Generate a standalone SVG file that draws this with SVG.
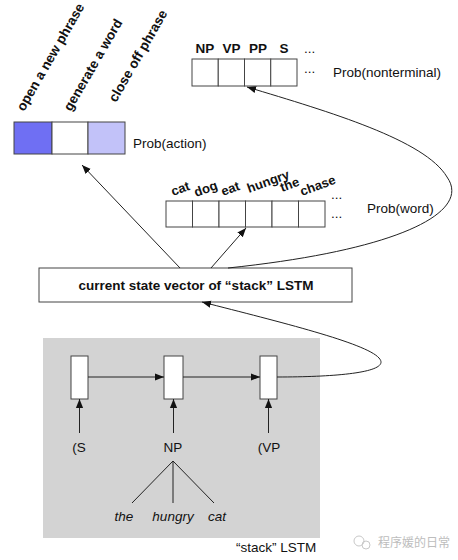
<svg xmlns="http://www.w3.org/2000/svg" width="458" height="560" viewBox="0 0 458 560">
<defs>
<marker id="ah" viewBox="0 0 10 10" refX="10" refY="5" markerWidth="9" markerHeight="9" markerUnits="userSpaceOnUse" orient="auto">
<path d="M0,1 L10,5 L0,9 z" fill="#111"/>
</marker>
</defs>
<style>
.b{fill:#fff;stroke:#444;stroke-width:1}
.t{font-family:"Liberation Sans",Arial,sans-serif;font-size:13.5px;fill:#111}
.bt{font-family:"Liberation Sans",Arial,sans-serif;font-size:13.5px;font-weight:bold;fill:#111}
.wt{font-family:"Liberation Sans",Arial,sans-serif;font-size:13px;font-weight:bold;fill:#111}
.it{font-family:"Liberation Sans",Arial,sans-serif;font-size:13.5px;font-style:italic;fill:#111}
.c{fill:none;stroke:#222;stroke-width:1}
</style>
<rect width="458" height="560" fill="#fff"/>

<g id="action">
<rect x="14" y="122" width="38" height="32" fill="#6f6ff3" stroke="#444"/>
<rect x="52" y="122" width="36" height="32" class="b"/>
<rect x="88" y="122" width="37" height="32" fill="#c2c2f9" stroke="#444"/>
<text class="bt" transform="translate(24,112) rotate(-60)" font-size="14">open a new phrase</text>
<text class="bt" transform="translate(71,112) rotate(-60)" font-size="14">generate a word</text>
<text class="bt" transform="translate(116,103) rotate(-60)" font-size="14">close off phrase</text>
<text class="t" x="133" y="148">Prob(action)</text>
</g>

<g id="nonterminal">
<rect x="192" y="59" width="26.25" height="27" class="b"/>
<rect x="218.25" y="59" width="26.25" height="27" class="b"/>
<rect x="244.5" y="59" width="26.25" height="27" class="b"/>
<rect x="270.75" y="59" width="26.25" height="27" class="b"/>
<text class="bt" x="205" y="53" text-anchor="middle">NP</text>
<text class="bt" x="231.5" y="53" text-anchor="middle">VP</text>
<text class="bt" x="258" y="53" text-anchor="middle">PP</text>
<text class="bt" x="284" y="53" text-anchor="middle">S</text>
<text class="t" x="304" y="53" font-size="11">...</text>
<text class="t" x="304" y="73" font-size="11">...</text>
<text class="t" x="333" y="77">Prob(nonterminal)</text>
</g>

<g id="word">
<rect x="166" y="201" width="26.5" height="26" class="b"/>
<rect x="192.5" y="201" width="26.5" height="26" class="b"/>
<rect x="219" y="201" width="26.5" height="26" class="b"/>
<rect x="245.5" y="201" width="26.5" height="26" class="b"/>
<rect x="272" y="201" width="26.5" height="26" class="b"/>
<rect x="298.5" y="201" width="26.5" height="26" class="b"/>
<text class="wt" transform="translate(173,196) rotate(-20)">cat</text>
<text class="wt" transform="translate(196,197) rotate(-20)">dog</text>
<text class="wt" transform="translate(223,196) rotate(-20)">eat</text>
<text class="wt" transform="translate(249,193) rotate(-20)">hungry</text>
<text class="wt" transform="translate(282,192) rotate(-20)">the</text>
<text class="wt" transform="translate(302,196) rotate(-20)">chase</text>
<text class="t" x="331" y="199" font-size="11">...</text>
<text class="t" x="331" y="218" font-size="11">...</text>
<text class="t" x="367" y="213">Prob(word)</text>
</g>

<g id="state">
<rect x="39" y="268" width="313" height="34" class="b"/>
<text class="bt" x="196" y="290" text-anchor="middle" font-size="14">current state vector of “stack” LSTM</text>
</g>

<g id="stack">
<rect x="43" y="338" width="277" height="200" fill="#d3d3d3"/>
<rect x="71" y="356" width="17" height="43" class="b"/>
<rect x="164" y="356" width="19" height="43" class="b"/>
<rect x="260" y="356" width="17" height="43" class="b"/>
<text class="t" x="79" y="452" text-anchor="middle">(S</text>
<text class="t" x="173" y="452" text-anchor="middle">NP</text>
<text class="t" x="269" y="452" text-anchor="middle">(VP</text>
<text class="it" x="124" y="521" text-anchor="middle">the</text>
<text class="it" x="173" y="521" text-anchor="middle">hungry</text>
<text class="it" x="217" y="521" text-anchor="middle">cat</text>
<text class="t" x="236" y="552">“stack” LSTM</text>
</g>

<g id="connectors">
<line class="c" x1="180" y1="268" x2="82" y2="165" marker-end="url(#ah)"/>
<line class="c" x1="211" y1="268" x2="246" y2="228" marker-end="url(#ah)"/>
<path class="c" d="M228,268 C400,250 472,212 447,177 C425,140 330,112 247,87" marker-end="url(#ah)"/>
<path class="c" d="M277,377 C340,377 392,372 379,358 C366,343 280,322 202,302" marker-end="url(#ah)"/>
<line class="c" x1="88" y1="377" x2="164" y2="377" marker-end="url(#ah)"/>
<line class="c" x1="183" y1="377" x2="260" y2="377" marker-end="url(#ah)"/>
<line class="c" x1="79.5" y1="433" x2="79.5" y2="399" marker-end="url(#ah)"/>
<line class="c" x1="173.5" y1="433" x2="173.5" y2="399" marker-end="url(#ah)"/>
<line class="c" x1="268.5" y1="433" x2="268.5" y2="399" marker-end="url(#ah)"/>
<line class="c" x1="173" y1="461" x2="132" y2="503"/>
<line class="c" x1="173" y1="461" x2="173" y2="503"/>
<line class="c" x1="173" y1="461" x2="214" y2="503"/>
</g>

<g id="watermark" fill="none" stroke="#c8c8c8">
<circle cx="359" cy="541" r="5"/>
<circle cx="366" cy="545" r="4"/>
<text x="378" y="547" stroke="none" fill="#bdbdbd" font-family="'Noto Sans CJK SC',sans-serif" font-size="12">程序媛的日常</text>
</g>
</svg>
